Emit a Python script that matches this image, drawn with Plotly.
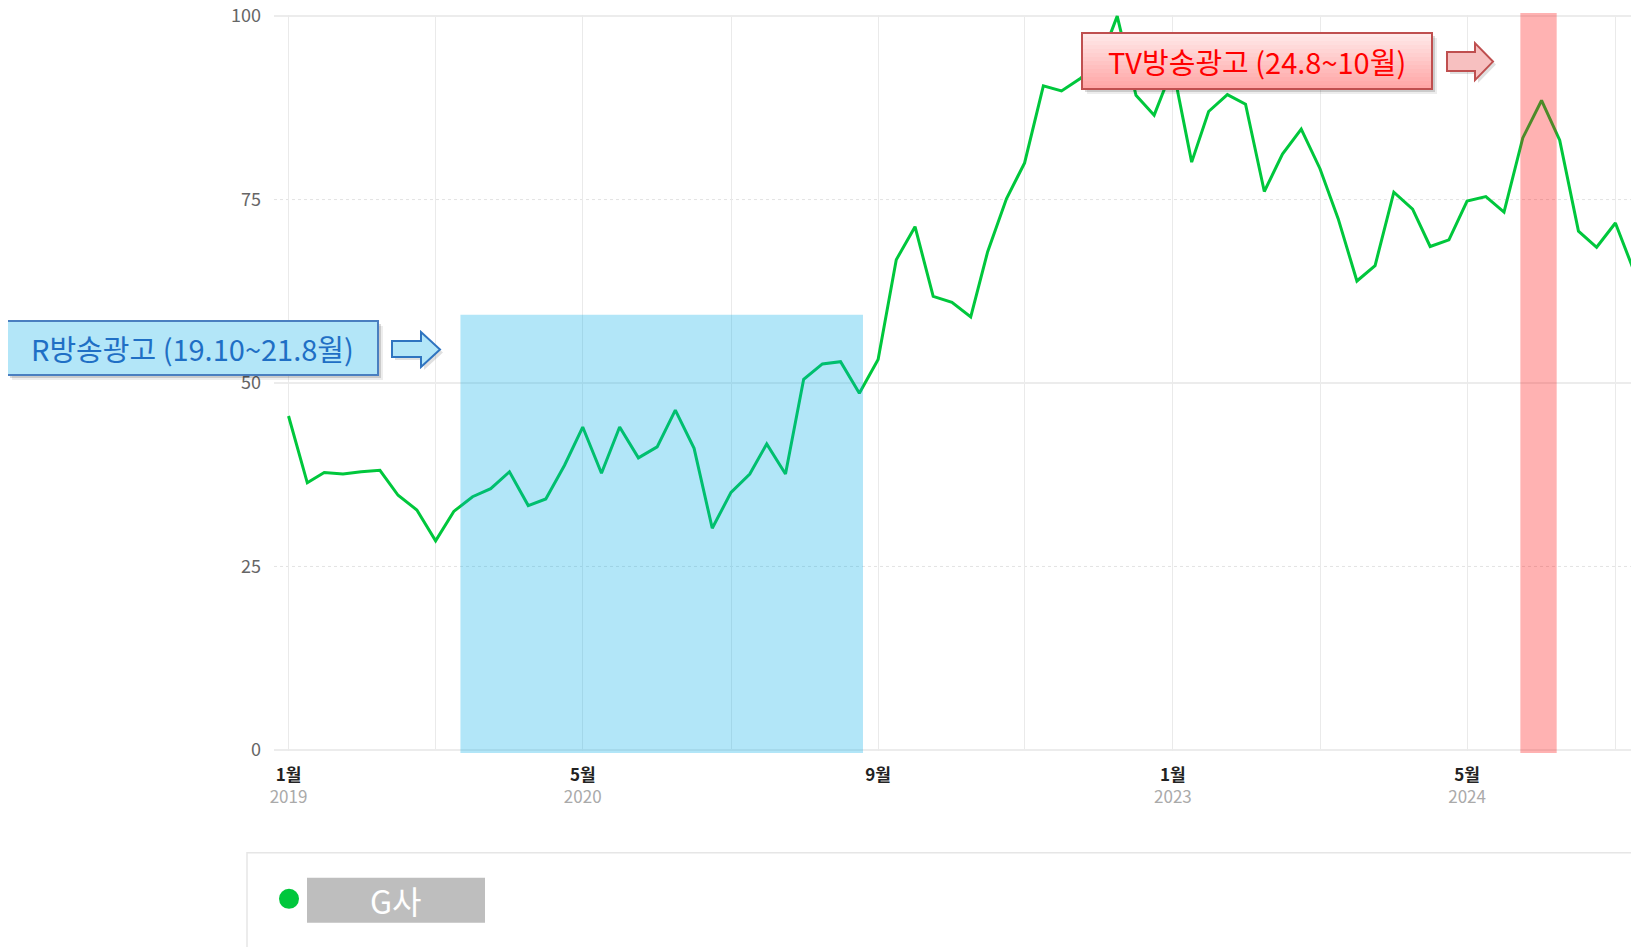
import plotly.graph_objects as go

# ---------------- data ----------------
months = [f"{y}-{m:02d}-01" for y in range(2019, 2026) for m in range(1, 13)][:74]
values = [
    45.5, 36.4, 37.8, 37.6, 37.9, 38.1, 34.7, 32.7, 28.5, 32.5, 34.5, 35.6,   # 2019
    37.9, 33.3, 34.2, 38.8, 44.0, 37.7, 44.0, 39.8, 41.3, 46.3, 41.1, 30.2,   # 2020
    35.1, 37.6, 41.7, 37.6, 50.5, 52.6, 52.9, 48.6, 53.2, 66.8, 71.3, 61.8,   # 2021
    61.0, 59.0, 67.9, 75.1, 80.0, 90.5, 89.8, 91.5, 93.5, 100.0, 89.2, 86.5,  # 2022
    93.0, 80.1, 87.0, 89.3, 88.0, 76.1, 81.2, 84.6, 79.2, 72.4, 63.9, 66.0,   # 2023
    76.0, 73.7, 68.6, 69.5, 74.8, 75.4, 73.3, 83.4, 88.5, 83.1, 70.7, 68.5,   # 2024
    71.8, 65.2,                                                               # 2025
]
series_name = "G사"

tick_vals = ["2019-01-01", "2020-05-01", "2021-09-01", "2023-01-01", "2024-05-01"]
tick_month = ["1월", "5월", "9월", "1월", "5월"]
tick_year = ["2019", "2020", "", "2023", "2024"]
y_ticks = [0, 25, 50, 75, 100]

r_ad_label = "R방송광고 (19.10~21.8월)"
r_ad_period = ["2019-10-12", "2021-08-07"]
r_ad_top = 59.3
tv_ad_label = "TV방송광고 (24.8~10월)"
tv_ad_period = ["2024-07-28", "2024-09-26"]

x_range = ["2018-12-08", "2025-02-09"]
y_pad = 0.15
y_range = [0 - y_pad, 100 + y_pad]

# ---------------- layout geometry ----------------
# page body has an 8px default margin: screen = figure + OFF
OFF = 8
FW, FH = 1639, 947
Y0_SCR, Y100_SCR = 750, 16            # screen y of value 0 and 100
UNIT = (Y0_SCR - Y100_SCR) / 100
SCR_LEFT, SCR_RIGHT = 274, 1639
SCR_TOP = Y100_SCR - y_pad * UNIT
SCR_BOTTOM = Y0_SCR + y_pad * UNIT
L = SCR_LEFT - OFF
T = SCR_TOP - OFF
R = FW - (SCR_RIGHT - OFF)
B = FH - (SCR_BOTTOM - OFF)
PW, PH = FW - L - R, FH - T - B


def px(x):  # screen x -> paper
    return (x - OFF - L) / PW


def py(y):  # screen y -> paper
    return (SCR_BOTTOM - y) / PH


FONT = "Noto Sans CJK KR, Malgun Gothic, sans-serif"
GREEN = "#00c73c"

fig = go.Figure()
fig.add_trace(go.Scatter(
    x=months, y=values, mode="lines", name=series_name,
    line=dict(color=GREEN, width=3), showlegend=False,
))

shapes = []

# dotted gridlines at 25 / 75
for v in (25, 75):
    shapes.append(dict(type="line", xref="paper", yref="y", x0=0, x1=1, y0=v, y1=v,
                       line=dict(color="#e3e3e3", width=1, dash="dot"), layer="below"))

# highlighted periods (drawn above line, semi-transparent)
shapes.append(dict(type="rect", xref="x", yref="paper",
                   x0=r_ad_period[0], x1=r_ad_period[1], y0=py(753),
                   y1=py(Y0_SCR - r_ad_top * UNIT),
                   fillcolor="rgba(0,172,232,0.30)", line=dict(width=0), layer="above"))
shapes.append(dict(type="rect", xref="x", yref="paper",
                   x0=tv_ad_period[0], x1=tv_ad_period[1], y0=py(753), y1=py(13),
                   fillcolor="rgba(255,0,0,0.30)", line=dict(width=0), layer="above"))


def shadow_rect(x0, y0, x1, y1):
    out = []
    for off, a in [(5, 0.07), (3, 0.14)]:
        out.append(dict(type="rect", xref="paper", yref="paper",
                        x0=px(x0 + off), x1=px(x1 + off), y0=py(y1 + off), y1=py(y0 + off),
                        fillcolor=f"rgba(0,0,0,{a})", line=dict(width=0), layer="above"))
    return out


def arrow_path(x0, xh, xt, yh0, yh1, ys0, ys1):
    ym = (yh0 + yh1) / 2
    pts = [(x0, ys0), (xh, ys0), (xh, yh0), (xt, ym), (xh, yh1), (xh, ys1), (x0, ys1)]
    return "M " + " L ".join(f"{px(a):.5f},{py(b):.5f}" for a, b in pts) + " Z"


def arrow_shapes(x0, xh, xt, yh0, yh1, ys0, ys1, fill, edge):
    out = []
    out.append(dict(type="path", xref="paper", yref="paper",
                    path=arrow_path(x0 + 3, xh + 3, xt + 3, yh0 + 3, yh1 + 3, ys0 + 3, ys1 + 3),
                    fillcolor="rgba(0,0,0,0.12)", line=dict(width=0), layer="above"))
    out.append(dict(type="path", xref="paper", yref="paper",
                    path=arrow_path(x0, xh, xt, yh0, yh1, ys0, ys1),
                    fillcolor=fill, line=dict(color=edge, width=2), layer="above"))
    return out


# blue label box
bx0, by0, bx1, by1 = 7, 321, 378, 375
shapes += shadow_rect(bx0, by0, bx1, by1)
shapes.append(dict(type="rect", xref="paper", yref="paper",
                   x0=px(bx0), x1=px(bx1), y0=py(by1), y1=py(by0),
                   fillcolor="#b3e6f8", line=dict(color="#4a7fc0", width=2), layer="above"))
shapes += arrow_shapes(392, 421, 440, 332, 367, 341, 357, "#b3e6f8", "#2f74c0")

# red label box (vertical gradient)
rx0, ry0, rx1, ry1 = 1082, 33, 1432, 89
shapes += shadow_rect(rx0, ry0, rx1, ry1)
n = 14
top_c, bot_c = (255, 232, 232), (255, 166, 166)
for i in range(n):
    t = i / (n - 1)
    c = tuple(round(top_c[k] + (bot_c[k] - top_c[k]) * t) for k in range(3))
    ya = ry0 + (ry1 - ry0) * i / n
    yb = ry0 + (ry1 - ry0) * (i + 1) / n
    shapes.append(dict(type="rect", xref="paper", yref="paper",
                       x0=px(rx0), x1=px(rx1), y0=py(yb + 0.5), y1=py(ya),
                       fillcolor=f"rgb{c}", line=dict(width=0), layer="above"))
shapes.append(dict(type="rect", xref="paper", yref="paper",
                   x0=px(rx0), x1=px(rx1), y0=py(ry1), y1=py(ry0),
                   fillcolor="rgba(0,0,0,0)", line=dict(color="#bf4f4f", width=2), layer="above"))
shapes += arrow_shapes(1447, 1475, 1493, 43, 80, 52, 71, "#f7c0c0", "#bf4f4f")

# legend panel
shapes.append(dict(type="rect", xref="paper", yref="paper",
                   x0=px(247), x1=px(1700), y0=py(1000), y1=py(853),
                   fillcolor="white", line=dict(color="#e6e6e6", width=1.5), layer="above"))
shapes.append(dict(type="circle", xref="paper", yref="paper",
                   x0=px(279), x1=px(299), y0=py(909), y1=py(889),
                   fillcolor=GREEN, line=dict(width=0), layer="above"))
shapes.append(dict(type="rect", xref="paper", yref="paper",
                   x0=px(307), x1=px(485), y0=py(923), y1=py(878),
                   fillcolor="#bebebe", line=dict(width=0), layer="above"))

annotations = [
    dict(xref="paper", yref="paper", x=px((bx0 + bx1) / 2), y=py((by0 + by1) / 2),
         text=r_ad_label, showarrow=False, xanchor="center", yanchor="middle",
         font=dict(family=FONT, size=29, color="#1f6fc5")),
    dict(xref="paper", yref="paper", x=px((rx0 + rx1) / 2), y=py((ry0 + ry1) / 2),
         text=tv_ad_label, showarrow=False, xanchor="center", yanchor="middle",
         font=dict(family=FONT, size=29, color="#ff0000")),
    dict(xref="paper", yref="paper", x=px(396), y=py(900.5),
         text=series_name, showarrow=False, xanchor="center", yanchor="middle",
         font=dict(family=FONT, size=32, color="white")),
]

tick_text = [
    f"<b>{m}</b><br><span style='color:#aaaaaa'>{y if y else '&nbsp;'}</span>"
    for m, y in zip(tick_month, tick_year)
]

fig.update_layout(
    width=FW, height=FH,
    margin=dict(l=L, r=R, t=T, b=B, autoexpand=False),
    paper_bgcolor="white", plot_bgcolor="white",
    font=dict(family=FONT),
    shapes=shapes, annotations=annotations,
    xaxis=dict(
        type="date", range=x_range,
        tickmode="array", tickvals=tick_vals, ticktext=tick_text,
        tickfont=dict(family=FONT, size=17, color="#222222"),
        showgrid=True, gridcolor="#eaeaea", gridwidth=1.2,
        minor=dict(tick0="2019-01-01", dtick="M8", showgrid=True,
                   gridcolor="#eaeaea", gridwidth=1.2, ticks=""),
        showline=False, zeroline=False, ticks="", ticklabelstandoff=12,
        ticklabeloverflow="allow", fixedrange=True,
    ),
    yaxis=dict(
        range=y_range, tickmode="array", tickvals=y_ticks,
        ticktext=[str(v) for v in y_ticks],
        tickfont=dict(family=FONT, size=18, color="#666666"),
        showgrid=False,
        minor=dict(tickmode="array", tickvals=[0, 50, 100], showgrid=True,
                   gridcolor="#ececec", gridwidth=1.5, ticks=""),
        showline=False, zeroline=False, ticks="", ticklabelstandoff=12,
        ticklabeloverflow="allow", fixedrange=True,
    ),
)

fig.write_html("out.html")
